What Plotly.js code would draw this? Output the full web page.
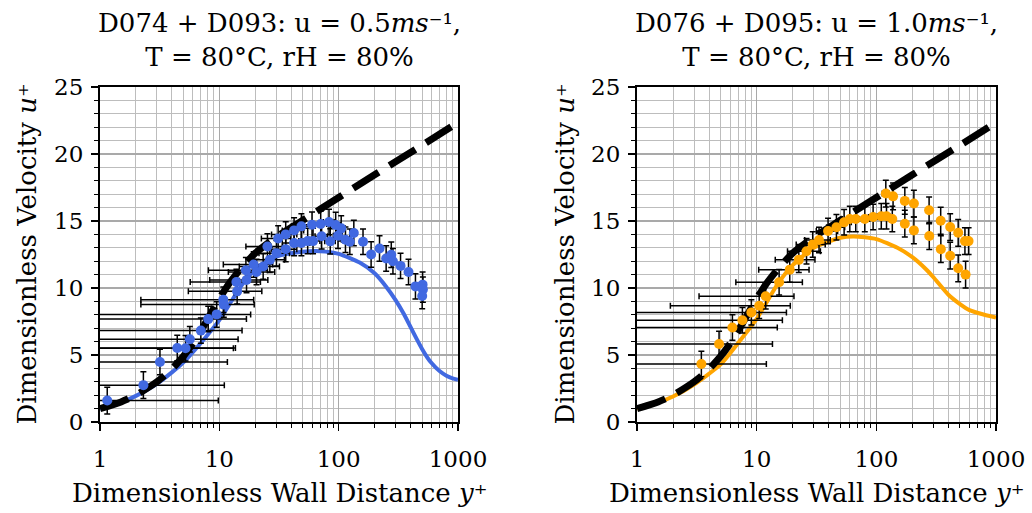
<!DOCTYPE html>
<html>
<head>
<meta charset="utf-8">
<script src="https://cdn.plot.ly/plotly-3.0.1.min.js"></script>
<style>
  html, body { margin: 0; padding: 0; background: #ffffff; }
  #chart { width: 1032px; height: 513px; }
</style>
</head>
<body>
<div id="chart"></div>
<script>
// Law of the wall (reference profile), sampled in y+
const wallYp = [1, 1.5, 2, 3, 4, 5, 6, 7, 8, 9, 10, 12, 15, 20, 30, 50, 100, 200, 500, 1000];
const wallUp = [1.0, 1.5, 2.0, 3.0, 3.95, 4.9, 5.85, 6.8, 7.7, 8.5, 9.2, 10.3, 11.4, 12.6, 13.8, 15.05, 16.75, 18.45, 20.65, 22.35];

// Simulated profile, u = 0.5 m/s case
const modelLeftYp = [1, 1.5, 2, 3, 4, 5, 7, 10, 13, 16, 20, 30, 50, 70, 100, 150, 200, 250, 300, 350, 400, 450, 500, 550, 600, 700, 800, 900, 1000];
const modelLeftUp = [1.0, 1.45, 1.95, 2.85, 3.7, 4.45, 5.9, 7.6, 9.2, 10.4, 11.4, 12.35, 12.7, 12.75, 12.55, 11.9, 11.1, 10.1, 9.1, 8.1, 7.1, 6.2, 5.45, 4.85, 4.4, 3.8, 3.45, 3.25, 3.15];

// Simulated profile, u = 1.0 m/s case
const modelRightYp = [1, 1.5, 2, 3, 5, 7, 10, 15, 20, 30, 50, 65, 100, 150, 200, 260, 300, 400, 500, 600, 800, 1000];
const modelRightUp = [1.0, 1.45, 1.9, 2.8, 4.3, 5.9, 7.7, 10.3, 11.7, 13.0, 13.75, 13.85, 13.65, 13.0, 12.3, 11.4, 10.8, 9.5, 8.8, 8.35, 8.0, 7.8];

// Measurements D074 + D093
const measLeftYp = [1.15, 2.31, 3.18, 4.44, 5.21, 5.66, 7.0, 8.07, 9.5, 10.8, 10.9, 13.9, 14.1, 16.7, 16.9, 19.4, 20.5, 23.3, 25.3, 26.5,
  30.1, 31.1, 36, 36, 42.3, 42.3, 48.7, 48.7, 55, 59.8, 61, 70.7, 72, 83, 85, 94.4, 98.7, 105, 114, 124,
  134, 160, 187, 220, 250, 276, 285, 330, 385, 440, 505, 508, 501];
const measLeftUp = [1.6, 2.75, 4.48, 5.52, 5.5, 6.17, 6.82, 7.68, 8.03, 9.13, 8.76, 10.45, 9.75, 11.32, 10.6, 11.75, 11.2, 11.6, 13.1, 12.1,
  12.6, 13.7, 14.0, 12.9, 14.3, 13.35, 14.6, 13.36, 13.5, 14.72, 13.5, 14.77, 13.86, 14.92, 13.48, 14.7, 13.9, 14.45, 13.6, 13.45,
  14.1, 13.45, 12.5, 12.95, 12.2, 12.48, 12.0, 11.65, 11.2, 10.12, 10.25, 9.88, 9.4];
const measLeftUerr = [1.0, 1.0, 0.95, 0.95, 0.95, 0.95, 0.95, 0.95, 0.95, 0.95, 0.95, 0.95, 0.95, 0.95, 0.95, 0.95, 0.95, 0.95, 0.95, 0.95,
  0.95, 0.95, 0.95, 0.95, 0.95, 0.95, 0.95, 0.95, 0.95, 0.95, 0.95, 0.95, 0.95, 0.95, 0.95, 0.95, 0.95, 0.95, 0.95, 0.95,
  0.95, 0.95, 0.95, 0.95, 0.95, 0.95, 0.95, 0.95, 0.95, 0.95, 0.95, 0.95, 0.95];
const measLeftYerr = [8.65, 8.7, 8.5, 9.2, 7.9, 8.7, 8.5, 8.8, 8.8, 8.6, 8.7, 8.2, 8.6, 8.6, 8.6, 8.6, 8.6, 8.6, 8.6, 8.6,
  8.6, 8.6, 8.6, 8.6, 8.6, 8.6, 8.6, 8.6, 8.6, 8.6, 8.6, 8.6, 8.6, 8.6, 8.6, 8.6, 8.6, 8.6, 8.6, 8.6,
  8.6, 8.6, 8.6, 8.6, 8.6, 8.6, 8.6, 8.6, 8.6, 8.6, 8.6, 8.6, 8.6];

// Measurements D076 + D095
const measRightYp = [3.45, 4.85, 6.27, 7.6, 9.03, 10.5, 11.9, 15.4, 18.9, 22.5, 26.1, 29.4, 33.2, 39.5, 46.4, 53.8, 60, 67.3, 80.1, 94,
  110, 121.6, 136, 120, 138, 173, 206, 276, 345, 414, 483, 550, 590, 173, 206, 277, 346, 414, 483, 557];
const measRightUp = [4.33, 5.82, 7.05, 7.59, 8.18, 8.68, 9.38, 10.43, 11.37, 12.1, 12.74, 13.24, 13.58, 14.25, 14.53, 14.9, 15.15, 15.15, 15.15, 15.3,
  15.35, 15.35, 15.15, 17.05, 16.84, 16.5, 16.3, 15.8, 15.02, 14.55, 14.12, 13.5, 13.5, 14.8, 14.3, 13.88, 12.9, 12.41, 11.47, 11.0];
const measRightUerr = [0.95, 0.95, 0.95, 0.95, 0.95, 0.95, 0.95, 0.95, 0.95, 0.95, 0.95, 0.95, 0.95, 0.95, 0.95, 0.95, 0.95, 0.95, 0.95, 0.95,
  0.95, 0.95, 0.95, 1.0, 1.0, 1.0, 1.0, 1.0, 1.0, 1.0, 1.0, 1.0, 1.0, 1.0, 1.0, 1.0, 1.0, 1.0, 1.0, 1.0];
const measRightYerr = [8.6, 8.7, 8.6, 8.8, 8.7, 8.6, 8.6, 8.7, 8.5, 8.2, 8.0, 8.0, 8.0, 8.0, 8.0, 8.0, 8.0, 8.0, 8.0, 8.0,
  8.0, 8.0, 8.0, 8.0, 8.0, 8.0, 8.0, 8.0, 8.0, 8.0, 8.0, 8.0, 8.0, 8.0, 8.0, 8.0, 8.0, 8.0, 8.0, 8.0];

const xTickVals = [1, 10, 100, 1000];
const xTickText = ['1', '10', '100', '1000'];
const yTickVals = [0, 5, 10, 15, 20, 25];

const titleLeft = 'D074 + D093: u = 0.5<i>ms</i>\u207b\u00b9,<br>T = 80\u00b0C, rH = 80%';
const titleRight = 'D076 + D095: u = 1.0<i>ms</i>\u207b\u00b9,<br>T = 80\u00b0C, rH = 80%';
const xLabel = 'Dimensionless Wall Distance <i>y</i>\u207a';
const yLabel = 'Dimensionless Velocity <i>u</i>\u207a';

const FONT = 'DejaVu Serif';
const TICK_SIZE = 23;
const TITLE_SIZE = 26;
const BLUE = '#4169e1';
const ORANGE = '#ffa500';

// Plot area geometry in pixels
const W = 1032, H = 513;
const leftBox = [100, 458];
const rightBox = [637, 996];
const plotTop = 87, plotBottom = 422;

function px2x(p) { return p / W; }
function px2y(p) { return 1 - p / H; }

function modelTrace(xs, ys, color, ax) {
  return { x: xs, y: ys, xaxis: 'x' + ax, yaxis: 'y' + ax, type: 'scatter', mode: 'lines',
    line: { color: color, width: 4, shape: 'spline', smoothing: 0.6 }, hoverinfo: 'skip' };
}
function wallTrace(ax) {
  return { x: wallYp, y: wallUp, xaxis: 'x' + ax, yaxis: 'y' + ax, type: 'scatter', mode: 'lines',
    line: { color: 'black', width: 7, dash: '30px,13px', shape: 'spline', smoothing: 0.6 }, hoverinfo: 'skip' };
}
function measTrace(xs, ys, xe, ye, color, ax) {
  return { x: xs, y: ys, xaxis: 'x' + ax, yaxis: 'y' + ax, type: 'scatter', mode: 'markers',
    marker: { color: color, size: 10, line: { width: 0 } },
    error_x: { type: 'data', array: xe, visible: true, color: 'black', thickness: 1.5, width: 3 },
    error_y: { type: 'data', array: ye, visible: true, color: 'black', thickness: 1.5, width: 3 } };
}

const data = [
  modelTrace(modelLeftYp, modelLeftUp, BLUE, ''),
  wallTrace(''),
  measTrace(measLeftYp, measLeftUp, measLeftYerr, measLeftUerr, BLUE, ''),
  modelTrace(modelRightYp, modelRightUp, ORANGE, '2'),
  wallTrace('2'),
  measTrace(measRightYp, measRightUp, measRightYerr, measRightUerr, ORANGE, '2')
];

const gridMajor = { showgrid: true, gridcolor: '#a9a9a9', gridwidth: 1.6 };
const gridMinor = { showgrid: true, gridcolor: '#bdbdbd', gridwidth: 1 };

function xAxis(box, anchor) {
  return Object.assign({
    type: 'log', domain: [px2x(box[0]), px2x(box[1])], range: [0, 3], anchor: anchor,
    tickvals: xTickVals, ticktext: xTickText,
    ticks: 'outside', ticklen: 7, tickwidth: 1.5, tickcolor: 'black', ticklabelstandoff: 8,
    showline: true, linecolor: 'black', linewidth: 2, mirror: true, zeroline: false,
    tickfont: { family: FONT, size: TICK_SIZE, color: 'black' },
    minor: Object.assign({ dtick: 'D1', ticks: 'outside', ticklen: 4, tickwidth: 1, tickcolor: 'black' }, gridMinor)
  }, gridMajor);
}
function yAxis(anchor) {
  return Object.assign({
    domain: [px2y(plotBottom), px2y(plotTop)], range: [0, 25], anchor: anchor,
    tickvals: yTickVals,
    ticks: 'outside', ticklen: 7, tickwidth: 1.5, tickcolor: 'black', ticklabelstandoff: 3,
    showline: true, linecolor: 'black', linewidth: 2, mirror: true, zeroline: false,
    tickfont: { family: FONT, size: TICK_SIZE, color: 'black' },
    minor: Object.assign({ dtick: 1, ticks: 'outside', ticklen: 4, tickwidth: 1, tickcolor: 'black' }, gridMinor)
  }, gridMajor);
}

function label(text, xpx, ypx, angle) {
  return { text: text, xref: 'paper', yref: 'paper', x: px2x(xpx), y: px2y(ypx),
    xanchor: 'center', yanchor: 'middle', showarrow: false, textangle: angle || 0,
    font: { family: FONT, size: TITLE_SIZE, color: 'black' } };
}

const layout = {
  width: W, height: H,
  margin: { l: 0, r: 0, t: 0, b: 0 },
  paper_bgcolor: 'white', plot_bgcolor: 'white',
  showlegend: false,
  font: { family: FONT, size: TICK_SIZE, color: 'black' },
  xaxis: xAxis(leftBox, 'y'),
  yaxis: yAxis('x'),
  xaxis2: xAxis(rightBox, 'y2'),
  yaxis2: yAxis('x2'),
  annotations: [
    label(titleLeft, (leftBox[0] + leftBox[1]) / 2, 40),
    label(titleRight, (rightBox[0] + rightBox[1]) / 2, 40),
    label(xLabel, (leftBox[0] + leftBox[1]) / 2, 493),
    label(xLabel, (rightBox[0] + rightBox[1]) / 2, 493),
    label(yLabel, 26, (plotTop + plotBottom) / 2, -90),
    label(yLabel, 564, (plotTop + plotBottom) / 2, -90)
  ]
};

Plotly.newPlot('chart', data, layout, { staticPlot: true, displayModeBar: false });
</script>
</body>
</html>
